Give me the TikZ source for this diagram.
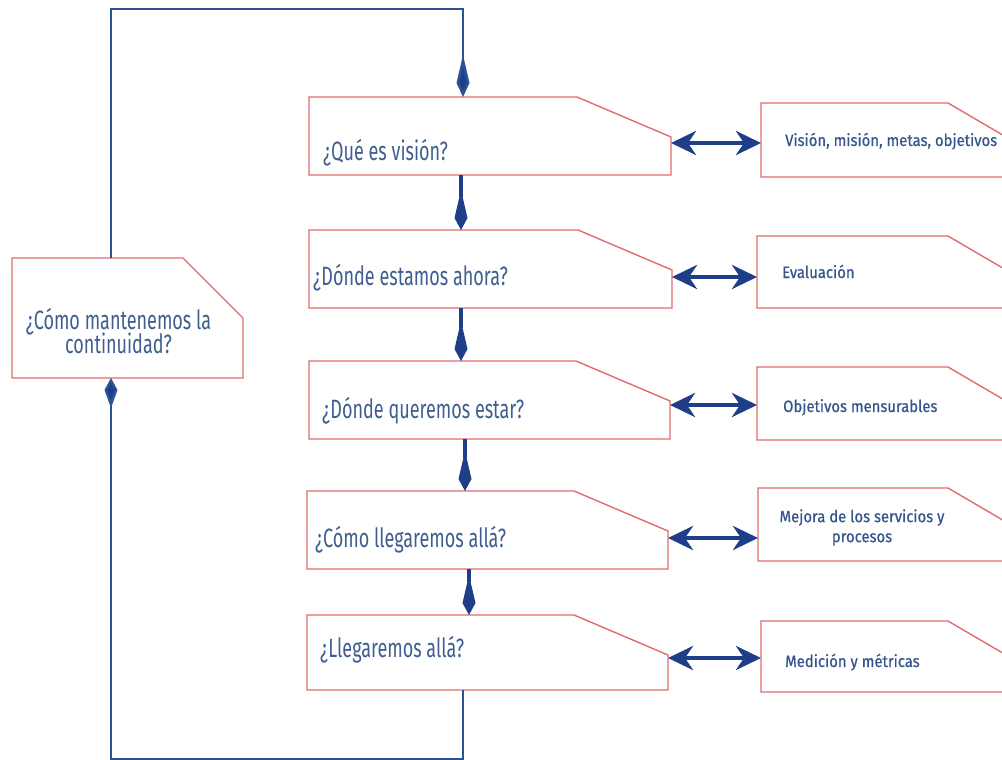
\documentclass[tikz,border=0pt]{standalone}
\usepackage{fontspec}
\setmainfont{Fira Sans}
\newfontfamily\qfont{Fira Sans}[FakeStretch=0.68]
\newfontfamily\rfont{Fira Sans}[FakeStretch=0.9,FakeBold=0.6]
\usetikzlibrary{arrows.meta,calc}

\definecolor{edgered}{HTML}{E06B6E}
\definecolor{flowblue}{HTML}{2A5396}
\definecolor{tipblue}{HTML}{1E3F88}
\definecolor{qtext}{HTML}{3F5E8F}
\definecolor{rtext}{HTML}{34548C}

\tikzset{
  box/.style={inner sep=0pt, outer sep=0pt},
  outline/.style={draw=edgered, line width=1.4pt, line join=miter},
  question/.style={font=\qfont\fontsize{26.5}{30}\selectfont, text=qtext, anchor=base west, inner sep=0pt},
  answer/.style={font=\rfont\fontsize{16.5}{20}\selectfont, text=rtext, anchor=base west, inner sep=0pt},
  flow/.style={draw=flowblue, line width=2.6pt},
  kitetip/.style={-{Kite[length=40pt,width=13pt,inset=28pt]}},
  down/.style={draw=tipblue, line width=3.2pt, kitetip},
  both/.style={draw=tipblue, line width=4.5pt,
    {Stealth[length=25pt,width=24pt,inset=8pt]}-{Stealth[length=25pt,width=24pt,inset=8pt]}},
}

% box outline with the upper right corner cut off: node, cut width, cut height
\newcommand\cornerbox[3]{%
  \draw[outline] (#1.south west) -- (#1.north west) -- ($(#1.north east)+(-#2,0)$)
    -- ($(#1.north east)+(0,#3)$) -- (#1.south east) -- cycle;}

\begin{document}
\begin{tikzpicture}[x=1pt,y=-1pt]
\useasboundingbox (0,0) rectangle (1002,760);
\clip (0,0) rectangle (1002,760);

% questions column
\node[box, minimum width=362, minimum height=78] (q1) at (490,136) {};
\node[box, minimum width=363, minimum height=78] (q2) at (490.5,269) {};
\node[box, minimum width=361, minimum height=78] (q3) at (489.5,400) {};
\node[box, minimum width=361, minimum height=78] (q4) at (487.5,530) {};
\node[box, minimum width=361, minimum height=75] (q5) at (487.5,652.5) {};
\foreach \n in {q1,q2,q3,q4,q5} {\cornerbox{\n}{94}{40}}

\node[question] (t1) at ($(q1.north west)+(14,63)$) {¿Qué es visión?};
\node[question] (t2) at ($(q2.north west)+(4,55)$) {¿Dónde estamos ahora?};
\node[question] (t3) at ($(q3.north west)+(13,57)$) {¿Dónde queremos estar?};
\node[question] (t4) at ($(q4.north west)+(8,56)$) {¿Cómo llegaremos allá?};
\node[question] (t5) at ($(q5.north west)+(13,42)$) {¿Llegaremos allá?};

% continuity box
\node[box, minimum width=231, minimum height=120] (L) at (127.5,318) {};
\cornerbox{L}{60}{60}
\node[question, anchor=center, align=center] (tl) at ($(L.center)+(-9,13)$)
  {¿Cómo mantenemos la\\[-0.4ex] continuidad?};

% answers column
\node[box, minimum width=269, minimum height=74] (r1) at (895.5,140) {};
\node[box, minimum width=273, minimum height=72] (r2) at (893.5,272) {};
\node[box, minimum width=273, minimum height=73] (r3) at (893.5,403.5) {};
\node[box, minimum width=272, minimum height=73] (r4) at (894,524.5) {};
\node[box, minimum width=269, minimum height=71] (r5) at (895.5,656.5) {};
\foreach \n in {r1,r2,r3,r4,r5} {\cornerbox{\n}{82}{48}}

\node[answer] (a1) at ($(r1.north west)+(24,43)$) {Visión, misión, metas, objetivos};
\node[answer] (a2) at ($(r2.north west)+(25,42)$) {Evaluación};
\node[answer] (a3) at ($(r3.north west)+(26,45)$) {Objetivos mensurables};
\node[answer, anchor=center, align=center] (a4) at ($(r4.center)+(-32,3)$)
  {Mejora de los servicios y\\ procesos};
\node[answer] (a5) at ($(r5.north west)+(24,46)$) {Medición y métricas};

% two-way links between questions and answers
\coordinate (h1) at ($(r1.west)+(0,3)$);
\coordinate (h2) at ($(r2.west)+(0,5)$);
\coordinate (h3) at ($(r3.west)+(0,1.5)$);
\coordinate (h4) at ($(r4.west)+(0,13.5)$);
\coordinate (h5) at ($(r5.west)+(0,1.5)$);
\draw[both] (q1.east |- h1) -- (h1);
\draw[both] (q2.east |- h2) -- (h2);
\draw[both] (q3.east |- h3) -- (h3);
\draw[both] (q4.east |- h4) -- (h4);
\draw[both] (q5.east |- h5) -- (h5);

% flow down the questions column
\coordinate (x12) at (461,0);
\coordinate (x23) at (461,0);
\coordinate (x34) at (465,0);
\coordinate (x45) at (469,0);
\draw[down] (q1.south -| x12) -- (q2.north -| x12);
\draw[down] (q2.south -| x23) -- (q3.north -| x23);
\draw[down] (q3.south -| x34) -- (q4.north -| x34);
\draw[down] (q4.south -| x45) -- (q5.north -| x45);

% feedback loop through the continuity box
\coordinate (lx) at (111,0);
\coordinate (tx) at (463,0);
\coordinate (ytop) at (0,9);
\coordinate (ybot) at (0,759);
\draw[flow, -{Kite[length=42pt,width=13pt,inset=28pt,fill=tipblue]}]
  (L.north -| lx) -- (lx |- ytop) -- (tx |- ytop) -- (q1.north -| tx);
\draw[flow, -{Kite[length=30pt,width=13pt,inset=18pt,fill=tipblue]}]
  (q5.south -| tx) -- (tx |- ybot) -- (lx |- ybot) -- (L.south -| lx);
\end{tikzpicture}
\end{document}
